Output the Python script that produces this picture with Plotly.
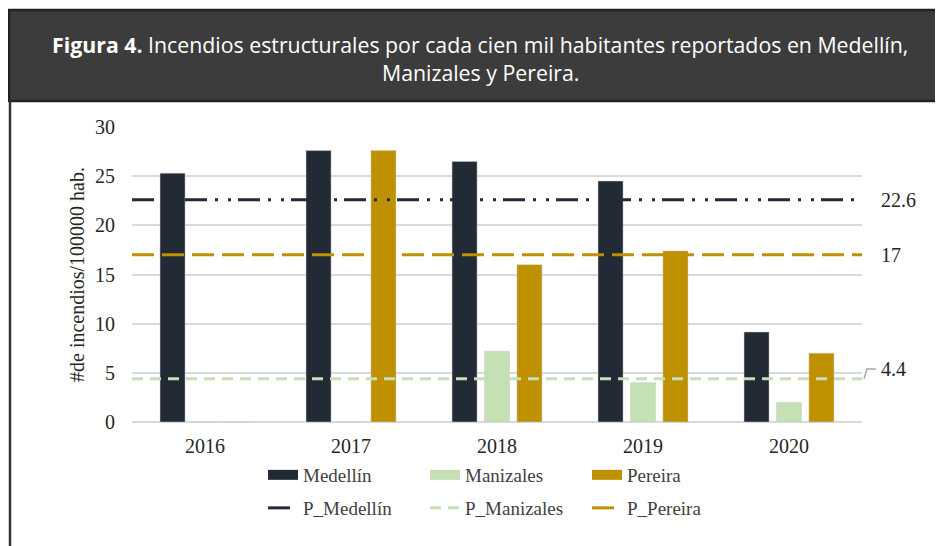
import plotly.graph_objects as go

# ---------------- data ----------------
years = ["2016", "2017", "2018", "2019", "2020"]
medellin = [25.3, 27.6, 26.5, 24.5, 9.15]
manizales = [0, 0, 7.2, 4.0, 2.0]
pereira = [0, 27.6, 16.0, 17.4, 7.0]
avg_names = ["P_Medellín", "P_Manizales", "P_Pereira"]
avg_values = [22.6, 4.4, 17]
avg_labels = ["22.6", "4.4", "17"]
bar_names = ["Medellín", "Manizales", "Pereira"]
y_title = "#de incendios/100000 hab."
title_bold = "Figura 4."
title_line1 = " Incendios estructurales por cada cien mil habitantes reportados en Medellín,"
title_line2 = "Manizales y Pereira."

# ---------------- style ----------------
OFF = 8  # page body margin
W, H = 943 - OFF, 546 - OFF
# plot area in reference (page) pixels
L, R, T, B = 132, 862, 127, 422
C_MED, C_MAN, C_PER = "#222a35", "#c5e0b4", "#bf9000"
SERIF = "Liberation Serif"
TXT = "#262626"


def px(x):
    return (x - L) / (R - L)


def py(y):
    return (B - y) / (B - T)


fig = go.Figure()
bar_colors = [C_MED, C_MAN, C_PER]
for name, vals, col in zip(bar_names, [medellin, manizales, pereira], bar_colors):
    fig.add_trace(go.Bar(x=years, y=vals, name=name, showlegend=False,
                         marker=dict(color=col, line=dict(width=0.6, color="rgba(200,200,200,0.8)"))))
# legend entries for bars (wide rectangular swatches)
for name, col in zip(bar_names, bar_colors):
    fig.add_trace(go.Scatter(x=[None], y=[None], mode="lines", name=name,
                             line=dict(color=col, width=10), legend="legend"))

dash_styles = {
    "P_Medellín": "22px,8px,3px,10px,3px,7px",
    "P_Manizales": "11px,7px",
    "P_Pereira": "22px,8px",
}
avg_colors = {"P_Medellín": C_MED, "P_Manizales": C_MAN, "P_Pereira": C_PER}
for name, v in zip(avg_names, avg_values):
    fig.add_trace(go.Scatter(x=[0, 1], y=[v, v], mode="lines", name=name, xaxis="x2",
                             line=dict(color=avg_colors[name], width=3, dash=dash_styles[name]),
                             legend="legend2", hoverinfo="skip"))

# value labels at right of average lines
for v, lab in zip(avg_values, avg_labels):
    shift = 10 if lab == "4.4" else 0
    fig.add_annotation(x=px(879), xref="paper", y=v, yref="y", yshift=shift, text=lab, showarrow=False,
                       xanchor="left", yanchor="middle", font=dict(family=SERIF, size=20, color=TXT))
# leader line for 4.4
y44 = avg_values[1]
fig.add_shape(type="path", xref="paper", yref="y",
              path=f"M {px(864)} {y44} L {px(867)} {y44 + 1.0} L {px(876)} {y44 + 1.0}",
              line=dict(color="#a6a6a6", width=1.5))

# header box
fig.add_shape(type="rect", xref="paper", yref="paper", x0=px(9), x1=px(950), y0=py(101), y1=py(10),
              fillcolor="#3c3c3c", line=dict(color="#222222", width=2.5), layer="above")
fig.add_shape(type="line", xref="paper", yref="paper", x0=px(10), x1=px(10), y0=py(101), y1=py(560),
              line=dict(color="#333333", width=2.5))
fig.add_annotation(x=px(480), y=py(44), xref="paper", yref="paper", showarrow=False,
                   text=f"<b>{title_bold}</b>{title_line1}", xanchor="center", yanchor="middle",
                   font=dict(family="Open Sans", size=21.3, color="white"))
fig.add_annotation(x=px(480), y=py(72), xref="paper", yref="paper", showarrow=False,
                   text=title_line2, xanchor="center", yanchor="middle",
                   font=dict(family="Open Sans", size=21.3, color="white"))

legend_common = dict(orientation="h", xanchor="left", yanchor="top",
                     entrywidth=117, entrywidthmode="pixels", bgcolor="rgba(0,0,0,0)",
                     font=dict(family=SERIF, size=19, color="#404040"), traceorder="normal")

fig.update_layout(
    width=W, height=H,
    margin=dict(l=L - OFF, r=W - (R - OFF), t=T - OFF, b=H - (B - OFF)),
    paper_bgcolor="white", plot_bgcolor="white",
    barmode="group", bargap=0.333, bargroupgap=0.23,
    showlegend=True,
    font=dict(family=SERIF, size=16, color=TXT),
    xaxis=dict(type="category", range=[-0.5, 4.5], showgrid=False, showline=False, zeroline=False,
               ticks="outside", ticklen=6, tickcolor="rgba(0,0,0,0)",
               tickfont=dict(family=SERIF, size=20, color=TXT)),
    xaxis2=dict(overlaying="x", range=[0, 1], visible=False),
    yaxis=dict(range=[0, 30], dtick=5, showgrid=True, gridcolor="#d9d9d9", gridwidth=1.5,
               zeroline=True, zerolinecolor="#d9d9d9", zerolinewidth=1.5, showline=False,
               ticks="outside", ticklen=12, tickcolor="rgba(0,0,0,0)",
               tickfont=dict(family=SERIF, size=20, color=TXT),
               title=dict(text=y_title, standoff=5, font=dict(family=SERIF, size=20, color=TXT))),
    legend=dict(x=px(263), y=py(456), **legend_common),
    legend2=dict(x=px(263), y=py(489), **legend_common),
)

fig.write_html("out.html")
